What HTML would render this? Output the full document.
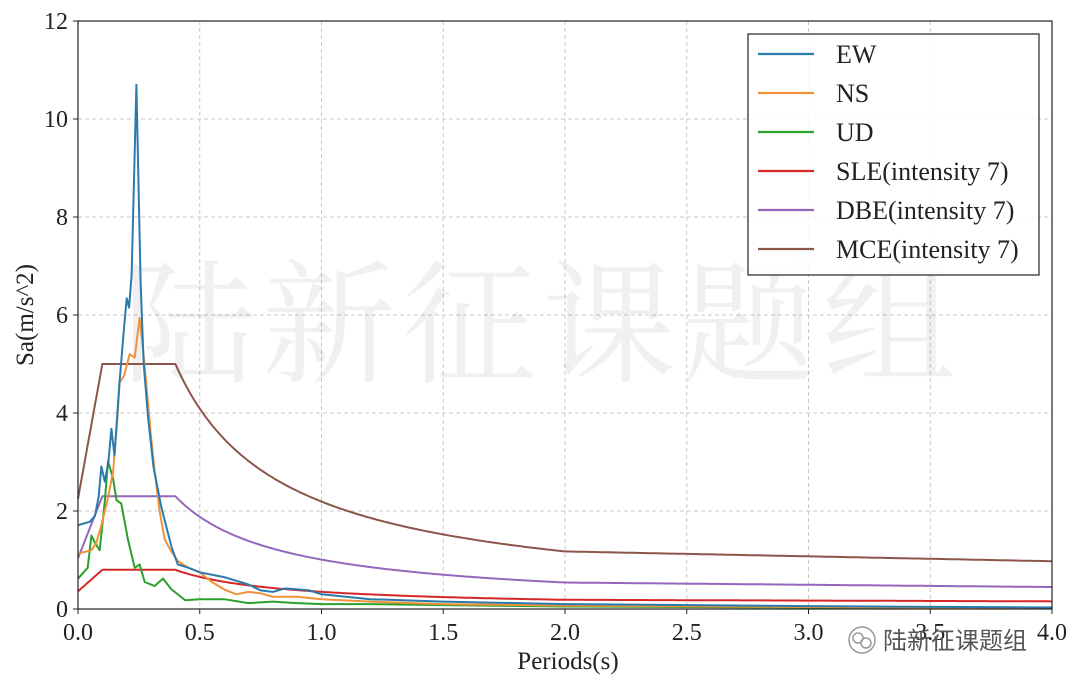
<!DOCTYPE html>
<html><head><meta charset="utf-8"><style>
body{margin:0;background:#fff;}
svg{display:block;font-family:"Liberation Serif","Noto Serif CJK SC",serif;}
</style></head><body>
<svg id="s" width="1080" height="686" viewBox="0 0 1080 686" xmlns="http://www.w3.org/2000/svg">
<rect width="1080" height="686" fill="#fff"/>
<g id="grid" stroke="#c8c8c8" stroke-width="1" stroke-dasharray="4,3"></g>
<text x="542" y="372" font-size="134" fill="#000" fill-opacity="0.06" text-anchor="middle" font-family="'Noto Serif CJK SC',serif" letter-spacing="6">陆新征课题组</text>
<g id="curves" fill="none" stroke-width="2" stroke-linejoin="round"></g>
<rect x="78" y="21" width="974" height="588" fill="none" stroke="#222" stroke-width="1.2"/>
<g id="ticks" font-size="24" fill="#222"></g>
<text x="568" y="669" font-size="25" text-anchor="middle" fill="#222">Periods(s)</text>
<text transform="translate(33,315) rotate(-90)" font-size="25" text-anchor="middle" fill="#222">Sa(m/s^2)</text>
<rect x="748" y="34" width="291" height="241" fill="#fff" fill-opacity="0.85" stroke="#222" stroke-width="1.2"/>
<g id="leg" font-size="26" fill="#222"></g>
<g transform="translate(862,640)">
<circle cx="0" cy="0" r="13" fill="#fff" stroke="#999" stroke-width="1.5"/>
<circle cx="-4" cy="-2" r="5" fill="none" stroke="#999" stroke-width="1.5"/>
<circle cx="4" cy="3" r="5" fill="none" stroke="#999" stroke-width="1.5"/>
</g>
<text x="883" y="649" font-size="24" fill="#555" font-family="'Noto Sans CJK SC',sans-serif">陆新征课题组</text>
</svg>
<script>
var X=function(t){return 78+t*243.5},Y=function(v){return 609-v*49};
var ns="http://www.w3.org/2000/svg";
function el(p,tag,a,txt){var e=document.createElementNS(ns,tag);for(var k in a)e.setAttribute(k,a[k]);if(txt)e.textContent=txt;document.getElementById(p).appendChild(e);return e;}
for(var i=1;i<8;i++)el("grid","line",{x1:X(i*0.5),x2:X(i*0.5),y1:21,y2:609});
for(var j=1;j<6;j++)el("grid","line",{x1:78,x2:1052,y1:Y(j*2),y2:Y(j*2)});
for(var i=0;i<=8;i++){el("ticks","line",{x1:X(i*0.5),x2:X(i*0.5),y1:609,y2:614,stroke:"#222"});el("ticks","text",{x:X(i*0.5),y:640,"text-anchor":"middle"},(i*0.5).toFixed(1));}
for(var j=0;j<=6;j++){el("ticks","line",{x1:73,x2:78,y1:Y(j*2),y2:Y(j*2),stroke:"#222"});el("ticks","text",{x:68,y:Y(j*2)+8,"text-anchor":"end"},String(j*2));}
function path(pts,c){var d=pts.map(function(p,i){return (i?"L":"M")+X(p[0]).toFixed(1)+","+Y(p[1]).toFixed(1)}).join("");el("curves","path",{d:d,stroke:c});}
function spec(a){var p=[];for(var t=0;t<=4.0001;t+=0.01){var v;if(t<=0.1)v=a*(0.45+5.5*t);else if(t<=0.4)v=a;else if(t<=2.0)v=a*Math.pow(0.4/t,0.9);else v=a*(Math.pow(0.2,0.9)-0.02*(t-2));p.push([t,v]);}return p;}
var EW=[[0,1.71],[0.048,1.78],[0.07,1.9],[0.085,2.3],[0.096,2.91],[0.11,2.6],[0.125,3.0],[0.137,3.68],[0.15,3.13],[0.17,4.6],[0.19,5.8],[0.2,6.34],[0.21,6.15],[0.22,6.81],[0.24,10.7],[0.257,6.66],[0.27,5.0],[0.288,3.9],[0.31,2.9],[0.342,2.08],[0.384,1.27],[0.41,0.91],[0.45,0.85],[0.5,0.75],[0.6,0.65],[0.7,0.5],[0.75,0.38],[0.8,0.35],[0.85,0.42],[0.95,0.38],[1.0,0.3],[1.2,0.2],[1.5,0.15],[2,0.1],[3,0.06],[4,0.03]];
var NS=[[0,1.13],[0.055,1.2],[0.075,1.35],[0.096,1.71],[0.12,2.2],[0.144,2.8],[0.16,3.8],[0.171,4.62],[0.19,4.77],[0.212,5.2],[0.233,5.13],[0.253,5.94],[0.265,5.4],[0.28,4.62],[0.3,3.5],[0.315,2.8],[0.335,2.0],[0.356,1.42],[0.38,1.2],[0.41,0.98],[0.45,0.85],[0.5,0.75],[0.55,0.55],[0.6,0.4],[0.65,0.3],[0.7,0.35],[0.75,0.32],[0.8,0.25],[0.9,0.25],[1.0,0.2],[1.2,0.15],[1.5,0.1],[2,0.07],[3,0.04],[4,0.02]];
var UD=[[0,0.62],[0.04,0.84],[0.055,1.5],[0.07,1.35],[0.089,1.2],[0.11,2.2],[0.123,3.02],[0.144,2.66],[0.158,2.22],[0.178,2.15],[0.205,1.42],[0.233,0.84],[0.253,0.91],[0.274,0.55],[0.315,0.47],[0.349,0.62],[0.384,0.4],[0.44,0.18],[0.5,0.2],[0.6,0.2],[0.7,0.12],[0.8,0.15],[0.9,0.12],[1.0,0.1],[1.2,0.1],[1.5,0.08],[2,0.05],[3,0.03],[4,0.02]];
path(spec(5),"#8c564b");path(spec(2.3),"#9467bd");path(spec(0.8),"#d62728");
path(UD,"#2ca02c");path(NS,"#f0923a");path(EW,"#2a7bab");
var L=[["EW","#2a7bab"],["NS","#f0923a"],["UD","#2ca02c"],["SLE(intensity 7)","#d62728"],["DBE(intensity 7)","#9467bd"],["MCE(intensity 7)","#8c564b"]];
L.forEach(function(l,i){var y=54+i*39;el("leg","line",{x1:758,x2:814,y1:y,y2:y,stroke:l[1],"stroke-width":2.2});el("leg","text",{x:836,y:y+9},l[0]);});
</script>
</body></html>
